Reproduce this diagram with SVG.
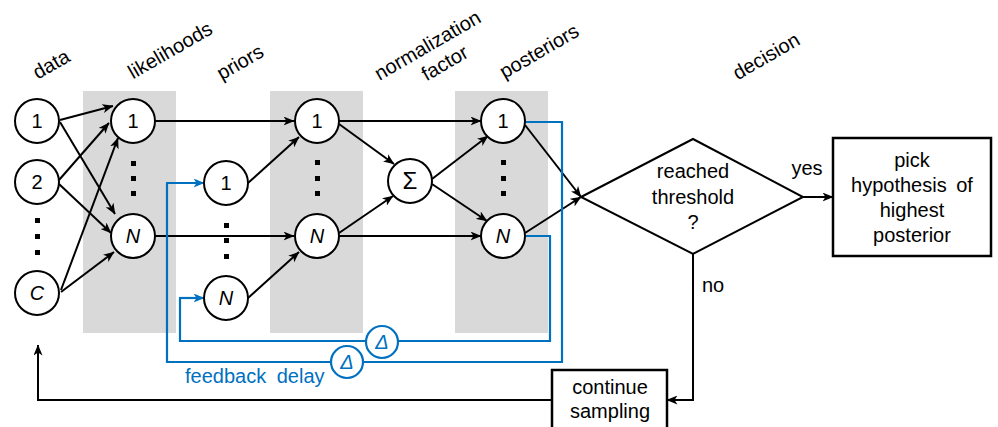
<svg xmlns="http://www.w3.org/2000/svg" width="998" height="427" viewBox="0 0 998 427">
<defs>
<marker id="ah" markerWidth="11" markerHeight="9" refX="10.5" refY="4.5" orient="auto" markerUnits="userSpaceOnUse">
<path d="M0,0 L11,4.5 L0,9 L3,4.5 z" fill="#000"/>
</marker>
<marker id="ahb" markerWidth="11" markerHeight="9" refX="10.5" refY="4.5" orient="auto" markerUnits="userSpaceOnUse">
<path d="M0,0 L11,4.5 L0,9 L3,4.5 z" fill="#0070C0"/>
</marker>
</defs>
<style>
text{font-family:"Liberation Sans",Arial,sans-serif;font-size:20px;fill:#000}
.band{fill:#D9D9D9}
.node{fill:#fff;stroke:#000;stroke-width:2}
.ln{fill:none;stroke:#000;stroke-width:2;marker-end:url(#ah)}
.pl{fill:none;stroke:#000;stroke-width:2}
.bl{fill:none;stroke:#0070C0;stroke-width:2.2}
.bla{fill:none;stroke:#0070C0;stroke-width:2.2;marker-end:url(#ahb)}
.dnode{fill:#fff;stroke:#0070C0;stroke-width:2.2}
.c{text-anchor:middle}
.it{font-style:italic}
.blue{fill:#0070C0}
.dot{fill:#000}
</style>
<g id="bands">
<rect class="band" x="83" y="91" width="93" height="242"/>
<rect class="band" x="270" y="91" width="93" height="242"/>
<rect class="band" x="455" y="91" width="93" height="242"/>
</g>
<g id="labels">
<text class="c" transform="translate(51,64) rotate(-30)" y="7">data</text>
<text class="c" transform="translate(170,50) rotate(-30)" y="7">likelihoods</text>
<text class="c" transform="translate(240,62) rotate(-30)" y="7">priors</text>
<g transform="translate(436,54) rotate(-30)">
<text class="c" x="-3" y="-5">normalization</text>
<text class="c" x="3" y="19">factor</text>
</g>
<text class="c" transform="translate(539,51) rotate(-30)" y="7">posteriors</text>
<text class="c" transform="translate(766,56) rotate(-30)" y="7">decision</text>
</g>
<g id="connectors">
<line class="ln" x1="60" y1="120" x2="113" y2="106"/>
<line class="ln" x1="60" y1="122" x2="115" y2="214"/>
<line class="ln" x1="59" y1="180" x2="109" y2="123"/>
<line class="ln" x1="59" y1="184" x2="111" y2="233"/>
<line class="ln" x1="61" y1="290" x2="118" y2="138"/>
<line class="ln" x1="61" y1="292" x2="114" y2="252"/>
<line class="ln" x1="155" y1="121" x2="294" y2="121"/>
<line class="ln" x1="155" y1="236" x2="294" y2="236"/>
<line class="ln" x1="248" y1="183" x2="299" y2="137"/>
<line class="ln" x1="248" y1="298" x2="299" y2="252"/>
<line class="ln" x1="339" y1="121" x2="481" y2="121"/>
<line class="ln" x1="339" y1="236" x2="481" y2="236"/>
<line class="ln" x1="339" y1="124" x2="394" y2="164"/>
<line class="ln" x1="339" y1="233" x2="393" y2="196"/>
<line class="ln" x1="432" y1="179" x2="488" y2="136"/>
<line class="ln" x1="432" y1="184" x2="487" y2="221"/>
<line class="ln" x1="525" y1="125" x2="581" y2="197"/>
<line class="ln" x1="525" y1="233" x2="581" y2="197"/>
<line class="ln" x1="803" y1="197" x2="833" y2="197"/>
<polyline class="ln" points="693,254 693,400 667,400"/>
<polyline class="ln" points="552,400 38,400 38,345"/>
<polyline class="bl" points="525,122 562,122 562,362 167,362 167,183"/>
<line class="bla" x1="166" y1="183" x2="204" y2="183"/>
<polyline class="bl" points="525,236 550,236 550,341 180,341 180,298"/>
<line class="bla" x1="179" y1="298" x2="204" y2="298"/>
</g>
<g id="data-1"><circle class="node" cx="37" cy="121" r="22"/><text class="c" x="37" y="128">1</text></g>
<g id="data-2"><circle class="node" cx="37" cy="182" r="22"/><text class="c" x="37" y="189">2</text></g>
<g id="data-dots"><rect class="dot" x="35" y="218" width="5" height="5"/><rect class="dot" x="35" y="234" width="5" height="5"/><rect class="dot" x="35" y="250" width="5" height="5"/></g>
<g id="data-C"><circle class="node" cx="37" cy="293" r="22"/><text class="c it" x="37" y="300">C</text></g>
<g id="lik-1"><circle class="node" cx="133" cy="121" r="22"/><text class="c" x="133" y="128">1</text></g>
<g id="lik-dots"><rect class="dot" x="131" y="161" width="5" height="5"/><rect class="dot" x="131" y="176" width="5" height="5"/><rect class="dot" x="131" y="191" width="5" height="5"/></g>
<g id="lik-N"><circle class="node" cx="133" cy="236" r="22"/><text class="c it" x="133" y="243">N</text></g>
<g id="prior-1"><circle class="node" cx="226" cy="183" r="22"/><text class="c" x="226" y="190">1</text></g>
<g id="prior-dots"><rect class="dot" x="224" y="223" width="5" height="5"/><rect class="dot" x="224" y="238" width="5" height="5"/><rect class="dot" x="224" y="254" width="5" height="5"/></g>
<g id="prior-N"><circle class="node" cx="226" cy="298" r="22"/><text class="c it" x="226" y="305">N</text></g>
<g id="joint-1"><circle class="node" cx="317" cy="121" r="22"/><text class="c" x="317" y="128">1</text></g>
<g id="joint-dots"><rect class="dot" x="315" y="160" width="5" height="5"/><rect class="dot" x="315" y="176" width="5" height="5"/><rect class="dot" x="315" y="191" width="5" height="5"/></g>
<g id="joint-N"><circle class="node" cx="317" cy="236" r="22"/><text class="c it" x="317" y="243">N</text></g>
<g id="sum"><circle class="node" cx="410" cy="181" r="22"/><text class="c" x="410" y="189" style="font-size:24px">Σ</text></g>
<g id="post-1"><circle class="node" cx="503" cy="121" r="22"/><text class="c" x="503" y="128">1</text></g>
<g id="post-dots"><rect class="dot" x="501" y="160" width="5" height="5"/><rect class="dot" x="501" y="176" width="5" height="5"/><rect class="dot" x="501" y="191" width="5" height="5"/></g>
<g id="post-N"><circle class="node" cx="503" cy="236" r="22"/><text class="c it" x="503" y="243">N</text></g>
<g id="delay-1"><circle class="dnode" cx="382" cy="342" r="16"/><text class="c it blue" x="382" y="349">Δ</text></g>
<g id="delay-2"><circle class="dnode" cx="347" cy="362" r="16"/><text class="c it blue" x="347" y="369">Δ</text></g>
<text class="blue" x="185" y="383" style="word-spacing:5px">feedback delay</text>
<g id="decision">
<polygon points="581,197 693,139 803,197 693,254" fill="#fff" stroke="#000" stroke-width="2"/>
<text class="c" x="693" y="178">reached</text>
<text class="c" x="693" y="204">threshold</text>
<text class="c" x="693" y="229">?</text>
</g>
<text class="c" x="807" y="175">yes</text>
<text class="c" x="713" y="292">no</text>
<g id="pick">
<rect x="833" y="138" width="158" height="118" fill="#fff" stroke="#000" stroke-width="2.5"/>
<text class="c" x="912" y="167">pick</text>
<text class="c" x="912" y="192" style="word-spacing:4px">hypothesis of</text>
<text class="c" x="912" y="217">highest</text>
<text class="c" x="912" y="242">posterior</text>
</g>
<g id="continue">
<rect x="552" y="370" width="115" height="70" fill="#fff" stroke="#000" stroke-width="2.5"/>
<text class="c" x="610" y="394">continue</text>
<text class="c" x="610" y="418">sampling</text>
</g>
</svg>
